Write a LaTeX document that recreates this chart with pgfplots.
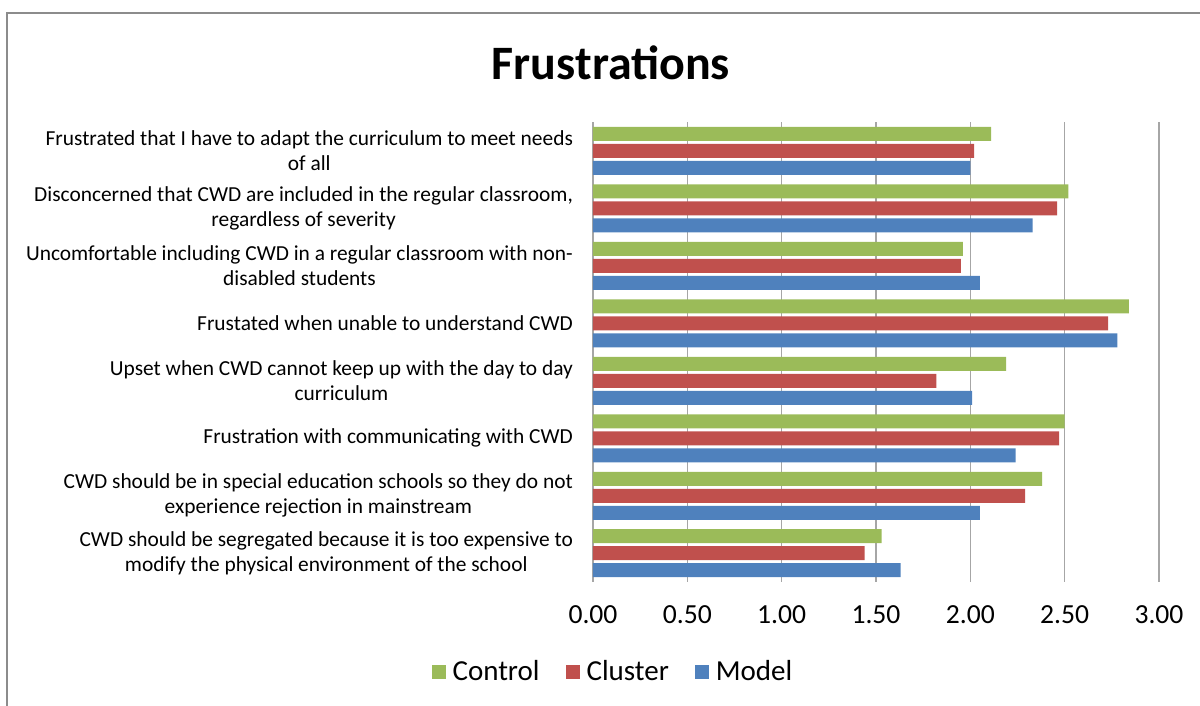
\documentclass[border=0pt]{standalone}
\usepackage{pgfplots}
\pgfplotsset{compat=1.18}
\usepackage{fontspec}
\setmainfont{Carlito}
\definecolor{ctrl}{HTML}{9BBB59}
\definecolor{clus}{HTML}{C0504D}
\definecolor{modl}{HTML}{4F81BD}
\definecolor{gridc}{HTML}{A6A6A6}
\definecolor{framec}{HTML}{8C8C8C}
\begin{document}
\begin{tikzpicture}
% 1 px of the reference = 0.5pt, origin at the lower left of the plot area
\useasboundingbox (-296.5pt,-62pt) rectangle (303.5pt,291pt);
\draw[framec, line width=1pt] (-293pt,-62pt) -- (-293pt,284.5pt) -- (303.5pt,284.5pt);
\begin{axis}[
  at={(0,0)}, anchor=south west,
  scale only axis,
  width=283pt, height=230pt,
  xbar, bar width=7pt,
  xmin=0, xmax=3,
  ymin=0.5, ymax=8.5,
  xtick={0,0.5,...,3},
  xticklabel style={/pgf/number format/fixed, /pgf/number format/fixed zerofill,
    /pgf/number format/precision=2, /pgf/number format/assume math mode=true,
    font=\fontsize{13.8}{16}\selectfont, yshift=-8.5pt},
  ytick={1,...,8},
  yticklabels={
    {CWD should be segregated because it is too expensive to\\modify the physical environment of the school},
    {CWD should be in special education schools so they do not\\experience rejection in mainstream},
    {Frustration with communicating with CWD},
    {Upset when CWD cannot keep up with the day to day\\curriculum},
    {Frustated when unable to understand CWD},
    {Uncomfortable including CWD in a regular classroom with non-\\disabled students},
    {Disconcerned that CWD are included in the regular classroom,\\regardless of severity},
    {Frustrated that I have to adapt the curriculum to meet needs\\of all}},
  yticklabel style={align=center, font=\fontsize{10.7}{12.6}\selectfont, xshift=-6.5pt},
  major tick length=0pt,
  axis y line*=left, axis x line*=bottom,
  x axis line style={draw=none},
  y axis line style={draw=gridc, line width=0.8pt},
  xmajorgrids, grid style={draw=gridc, line width=0.8pt},
  legend columns=3,
  legend style={at={(0.037,-0.196)}, anchor=center, draw=none,
    font=\fontsize{14.5}{17}\selectfont,
    /tikz/every even column/.append style={column sep=11pt}},
  legend image code/.code={\fill[#1] (0pt,-3.5pt) rectangle (7pt,3.5pt); \path (8.5pt,0pt);},
]
\addplot[fill=ctrl, draw=none, bar shift=8.5pt]
  coordinates {(1.53,1) (2.38,2) (2.50,3) (2.19,4) (2.84,5) (1.96,6) (2.52,7) (2.11,8)};
\addplot[fill=clus, draw=none, bar shift=0pt]
  coordinates {(1.44,1) (2.29,2) (2.47,3) (1.82,4) (2.73,5) (1.95,6) (2.46,7) (2.02,8)};
\addplot[fill=modl, draw=none, bar shift=-8.5pt]
  coordinates {(1.63,1) (2.05,2) (2.24,3) (2.01,4) (2.78,5) (2.05,6) (2.33,7) (2.00,8)};
\legend{Control, Cluster, Model}
\end{axis}
\node[font=\bfseries\fontsize{24}{28}\selectfont] at (9pt,259.5pt) {Frustrations};
\end{tikzpicture}
\end{document}
